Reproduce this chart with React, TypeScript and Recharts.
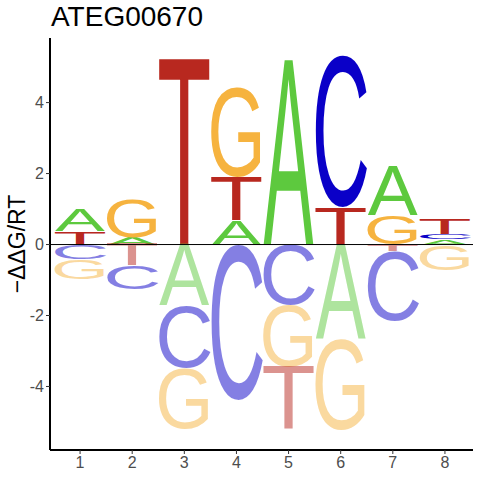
import { BarChart, Bar, XAxis, YAxis, ReferenceLine } from 'recharts'

// sequence logo for ATEG00670: letters stacked from zero outward
const positions = [1, 2, 3, 4, 5, 6, 7, 8]

const upLetters = [
  ['T', 'A'],
  ['A', 'G'],
  ['T'],
  ['A', 'T', 'G'],
  ['A'],
  ['T', 'C'],
  ['G', 'A'],
  ['A', 'C', 'T'],
]
const upHeights = [
  [0.37, 0.61],
  [0.2, 1.08],
  [5.22],
  [0.68, 1.21, 2.53],
  [5.19],
  [1.03, 4.27],
  [0.83, 1.36],
  [0.14, 0.16, 0.44],
]

const downLetters = [
  ['C', 'G'],
  ['T', 'C'],
  ['A', 'C', 'G'],
  ['C'],
  ['C', 'G', 'T'],
  ['A', 'G'],
  ['T', 'C'],
  ['G'],
]
const downHeights = [
  [-0.41, -0.57],
  [-0.59, -0.68],
  [-1.71, -1.76, -1.72],
  [-4.41],
  [-1.71, -1.74, -1.75],
  [-2.65, -2.58],
  [-0.19, -1.96],
  [-0.72],
]

const yTicks = [-4, -2, 0, 2, 4]

const COLORS: Record<string, string> = {
  A: '#5DC93E',
  C: '#0A00C8',
  G: '#F6B33F',
  T: '#B8281F',
}

// ink box of each glyph in em units (xMin, yMin, xMax, yMax), Liberation Sans
const GLYPH: Record<string, number[]> = {
  A: [0, 0, 0.668, 0.688],
  C: [0.049, -0.012, 0.669, 0.7],
  G: [0.053, -0.012, 0.722, 0.7],
  T: [0.023, 0, 0.588, 0.688],
}

const FONT = '"Liberation Sans", Arial, sans-serif'
const LAYERS = 3

const table = positions.map((pos, i) => {
  const row: any = { pos }
  for (let k = 0; k < LAYERS; k++) {
    row['u' + k] = upHeights[i][k] ?? 0
    row['uL' + k] = upLetters[i][k]
    row['d' + k] = downHeights[i][k] ?? 0
    row['dL' + k] = downLetters[i][k]
  }
  return row
})

const Letter = (props: any) => {
  const { x, y, width, height, layer, neg } = props
  const row = props.payload || props
  const letter = row[(neg ? 'dL' : 'uL') + layer]
  if (!letter || !height || Math.abs(height) < 0.5) return null
  const top = Math.min(y, y + height)
  const h = Math.abs(height)
  const [x0, y0, x1, y1] = GLYPH[letter]
  const sx = width / (100 * (x1 - x0))
  const sy = h / (100 * (y1 - y0))
  return (
    <text
      x={0}
      y={0}
      fontSize={100}
      fontFamily={FONT}
      fill={COLORS[letter]}
      fillOpacity={neg ? 0.5 : 1}
      transform={`translate(${x},${top + h}) scale(${sx},${sy}) translate(${-100 * x0},${100 * y0})`}
    >
      {letter}
    </text>
  )
}

const layerIds = Array.from({ length: LAYERS }, (_, k) => k)

export default function App() {
  return (
    <div style={{ position: 'absolute', left: 0, top: 0, width: 480, height: 480, background: '#fff', fontFamily: FONT }}>
      <div style={{ position: 'absolute', left: 51, top: 3, fontSize: 28, lineHeight: 1, color: '#000', whiteSpace: 'nowrap' }}>
        ATEG00670
      </div>
      <div
        style={{
          position: 'absolute',
          left: 17,
          top: 244,
          fontSize: 23,
          lineHeight: 1,
          color: '#000',
          whiteSpace: 'nowrap',
          transform: 'translate(-50%, -50%) rotate(-90deg)',
        }}
      >
        −ΔΔG/RT
      </div>
      <BarChart
        width={480}
        height={480}
        data={table}
        stackOffset="sign"
        margin={{ top: 38, right: 7, bottom: 0, left: 10 }}
        style={{ position: 'absolute', left: 0, top: 0 }}
      >
        <XAxis
          dataKey="pos"
          height={30}
          padding={{ left: 4, right: 2 }}
          tick={{ fill: '#4D4D4D', fontSize: 16, fontFamily: FONT }}
          tickSize={4}
          tickMargin={3}
          axisLine={{ stroke: '#000', strokeWidth: 2 }}
          tickLine={{ stroke: '#333' }}
        />
        <YAxis
          type="number"
          width={40}
          domain={[-5.79, 5.82]}
          ticks={yTicks}
          allowDataOverflow
          tick={{ fill: '#4D4D4D', fontSize: 16, fontFamily: FONT }}
          tickSize={4}
          tickMargin={2}
          axisLine={{ stroke: '#000', strokeWidth: 2 }}
          tickLine={{ stroke: '#333' }}
        />
        {layerIds.map((k) => (
          <Bar
            key={'u' + k}
            dataKey={'u' + k}
            stackId="s"
            barSize={50}
            isAnimationActive={false}
            shape={(p: any) => <Letter {...p} layer={k} neg={false} />}
          />
        ))}
        {layerIds.map((k) => (
          <Bar
            key={'d' + k}
            dataKey={'d' + k}
            stackId="s"
            barSize={50}
            isAnimationActive={false}
            shape={(p: any) => <Letter {...p} layer={k} neg={true} />}
          />
        ))}
        <ReferenceLine y={0} stroke="#000" strokeWidth={1} />
      </BarChart>
    </div>
  )
}
